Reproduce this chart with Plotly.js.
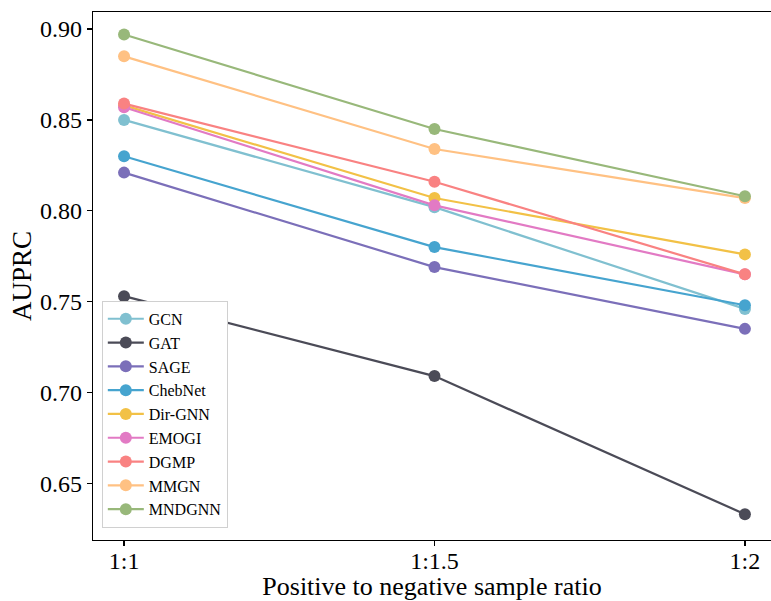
<!DOCTYPE html>
<html>
<head>
<meta charset="utf-8">
<script src="https://cdn.plot.ly/plotly-3.0.1.min.js"></script>
<style>html,body{margin:0;padding:0;background:#fff;}#chart{width:771px;height:601px;}</style>
</head>
<body>
<div id="chart"></div>
<script>
const ratios = ["1:1", "1:1.5", "1:2"];
const methods = ["GCN", "GAT", "SAGE", "ChebNet", "Dir-GNN", "EMOGI", "DGMP", "MMGN", "MNDGNN"];
const GCN     = [0.850, 0.802, 0.746];
const GAT     = [0.753, 0.709, 0.633];
const SAGE    = [0.821, 0.769, 0.735];
const ChebNet = [0.830, 0.780, 0.748];
const DirGNN  = [0.858, 0.807, 0.776];
const EMOGI   = [0.857, 0.803, 0.765];
const DGMP    = [0.859, 0.816, 0.765];
const MMGN    = [0.885, 0.834, 0.807];
const MNDGNN  = [0.897, 0.845, 0.808];
const seriesValues = [GCN, GAT, SAGE, ChebNet, DirGNN, EMOGI, DGMP, MMGN, MNDGNN];
const colors = ["#80c0d0", "#4b4b57", "#7b6fb9", "#46a4cf", "#f2c146", "#e27ac4", "#f98282", "#ffc183", "#98b87a"];

const xIdx = ratios.map((_, i) => i);
const traces = methods.map((m, k) => ({
  type: "scatter",
  mode: "lines+markers",
  name: m,
  x: xIdx,
  y: seriesValues[k],
  line: {color: colors[k], width: 2.2},
  marker: {color: colors[k], size: 12}
}));

const font = "'Liberation Serif', 'Times New Roman', serif";
const layout = {
  width: 771, height: 601,
  margin: {l: 93, r: 0, t: 12, b: 61},
  paper_bgcolor: "#fff", plot_bgcolor: "#fff",
  font: {family: font, color: "#000"},
  showlegend: true,
  legend: {
    x: 0.013, y: 0.023, xanchor: "left", yanchor: "bottom",
    bgcolor: "#fff", bordercolor: "#d0d0d0", borderwidth: 1,
    font: {family: font, size: 16, color: "#000"},
    itemwidth: 36
  },
  xaxis: {
    range: [-0.1, 2.084],
    tickmode: "array", tickvals: xIdx, ticktext: ratios,
    showgrid: false, zeroline: false,
    showline: true, linecolor: "#000", linewidth: 1.2, mirror: true,
    ticks: "outside", ticklen: 5, tickwidth: 1.2, tickcolor: "#000",
    ticklabelstandoff: -6,
    tickfont: {family: font, size: 24, color: "#000"},
    title: {text: "Positive to negative sample ratio", font: {family: font, size: 26, color: "#000"}, standoff: 3}
  },
  yaxis: {
    range: [0.6188, 0.9094],
    tickvals: [0.65, 0.70, 0.75, 0.80, 0.85, 0.90],
    ticktext: ["0.65", "0.70", "0.75", "0.80", "0.85", "0.90"],
    tickmode: "array",
    showgrid: false, zeroline: false,
    showline: true, linecolor: "#000", linewidth: 1.2,
    ticks: "outside", ticklen: 5, tickwidth: 1.2, tickcolor: "#000",
    tickfont: {family: font, size: 24, color: "#000"},
    title: {text: "AUPRC", font: {family: font, size: 27, color: "#000"}, standoff: 0}
  }
};

Plotly.newPlot("chart", traces, layout, {staticPlot: true, displayModeBar: false});
</script>
</body>
</html>
